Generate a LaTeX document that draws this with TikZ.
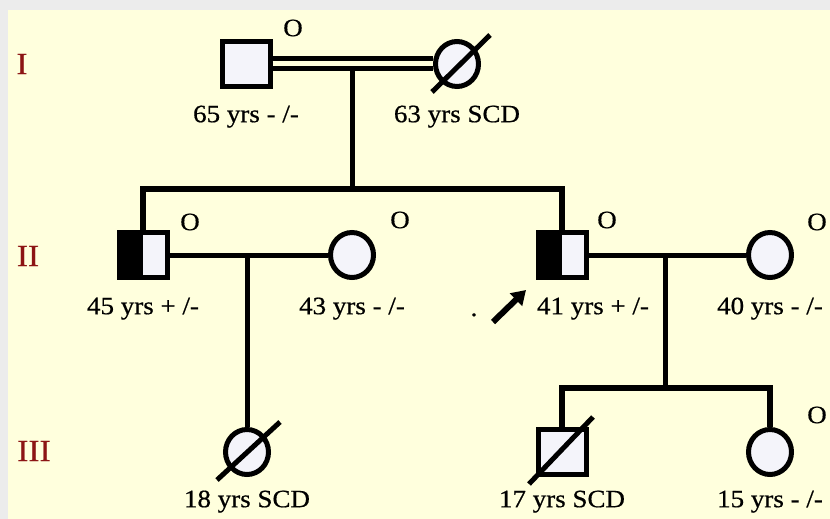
\documentclass[tikz,border=0pt]{standalone}
\usepackage{fontspec}
\setmainfont[FakeStretch=1.08, FakeBold=0.6]{Liberation Serif}
\usetikzlibrary{arrows.meta, positioning, shapes.geometric}
\definecolor{paper}{RGB}{255,255,221}
\definecolor{frame}{RGB}{236,236,236}
\definecolor{symfill}{RGB}{244,244,250}
\definecolor{gencol}{RGB}{140,20,20}

\begin{document}
\begin{tikzpicture}[
  x=1pt, y=-1pt,
  male/.style={draw, rectangle, line width=5pt, minimum width=48pt, minimum height=45pt, inner sep=0pt, fill=symfill},
  female/.style={draw, ellipse, line width=5pt, minimum width=43pt, minimum height=45pt, inner sep=0pt, fill=symfill},
  carrier/.style={path picture={\fill[black] (path picture bounding box.south west) rectangle (path picture bounding box.north);}},
  lbl/.style={font=\fontsize{25}{28}\selectfont, inner sep=0pt, text height=17pt, text depth=5pt},
  ol/.style={font=\fontsize{25}{28}\selectfont, inner sep=0pt},
  genlbl/.style={font=\fontsize{31}{34}\selectfont, text=gencol, inner sep=0pt},
  conn/.style={line width=5pt},
  sib/.style={line width=6pt, line join=miter},
  slash/.style={line width=5pt}
]
\fill[frame] (0,0) rectangle (830,519);
\fill[paper] (8,10) rectangle (830,519);
\useasboundingbox (0,0) rectangle (830,519);

% generations
\node[genlbl] (g1) at (22,64) {I};
\node[genlbl] (g2) at (28,256) {II};
\node[genlbl] (g3) at (34,451) {III};

% individuals
\node[male] (i1) at (246,64) {};
\node[female] (i2) at (457,64) {};
\node[male, carrier] (ii1) at (143,255) {};
\node[female] (ii2) at (352,255) {};
\node[male, carrier] (ii3) at (562,255) {};
\node[female] (ii4) at (770,255) {};
\node[female] (iii1) at (247,452) {};
\node[male] (iii2) at (562,452) {};
\node[female] (iii3) at (770,452) {};

% matings and descents
\draw[conn, double=paper, double distance=5pt] (i1) -- (i2);
\coordinate (m1) at (352,70);
\coordinate (s1) at (352,189);
\draw[conn] (m1) -- (s1);
\draw[sib] (ii1.north) |- (s1) -| (ii3.north);

\draw[conn] (ii1) -- (ii2);
\coordinate (m2) at (247,255);
\draw[conn] (m2) -- (iii1.north);

\draw[conn] (ii3) -- (ii4);
\coordinate (m3) at (665,255);
\coordinate (s3) at (665,388);
\draw[conn] (m3) -- (s3);
\draw[sib] (iii2.north) |- (s3) -| (iii3.north);

% deceased
\draw[slash] ([shift={(-25,28)}]i2.center) -- ([shift={(33,-29)}]i2.center);
\draw[slash] ([shift={(-30,28)}]iii1.center) -- ([shift={(33,-30)}]iii1.center);
\draw[slash] ([shift={(-33,32)}]iii2.center) -- ([shift={(31,-35)}]iii2.center);

% O marks
\node[ol] (i1o) at ([shift={(47,-36)}]i1) {O};
\node[ol] (ii1o) at ([shift={(47,-33)}]ii1) {O};
\node[ol] (ii2o) at ([shift={(48,-35)}]ii2) {O};
\node[ol] (ii3o) at ([shift={(45,-35)}]ii3) {O};
\node[ol] (ii4o) at ([shift={(47,-33)}]ii4) {O};
\node[ol] (iii3o) at ([shift={(47,-37)}]iii3) {O};

% labels
\node[lbl, below=16pt of i1] (i1l) {65 yrs - /-};
\node[lbl, below=16pt of i2] (i2l) {63 yrs SCD};
\node[lbl, below=17pt of ii1] (ii1l) {45 yrs + /-};
\node[lbl, below=17pt of ii2] (ii2l) {43 yrs - /-};
\node[lbl, below=17pt of ii3, xshift=31pt] (ii3l) {41 yrs + /-};
\node[lbl, below=17pt of ii4] (ii4l) {40 yrs - /-};
\node[lbl, below=13pt of iii1] (iii1l) {18 yrs SCD};
\node[lbl, below=13pt of iii2] (iii2l) {17 yrs SCD};
\node[lbl, below=13pt of iii3] (iii3l) {15 yrs - /-};

% proband
\node[ol, anchor=base] (dot) at (474,316) {.};
\coordinate (pb0) at (493,322);
\coordinate (pb1) at (526,290);
\draw[line width=6pt, -{Triangle[length=14pt,width=17pt]}] (pb0) -- (pb1);
\end{tikzpicture}
\end{document}
